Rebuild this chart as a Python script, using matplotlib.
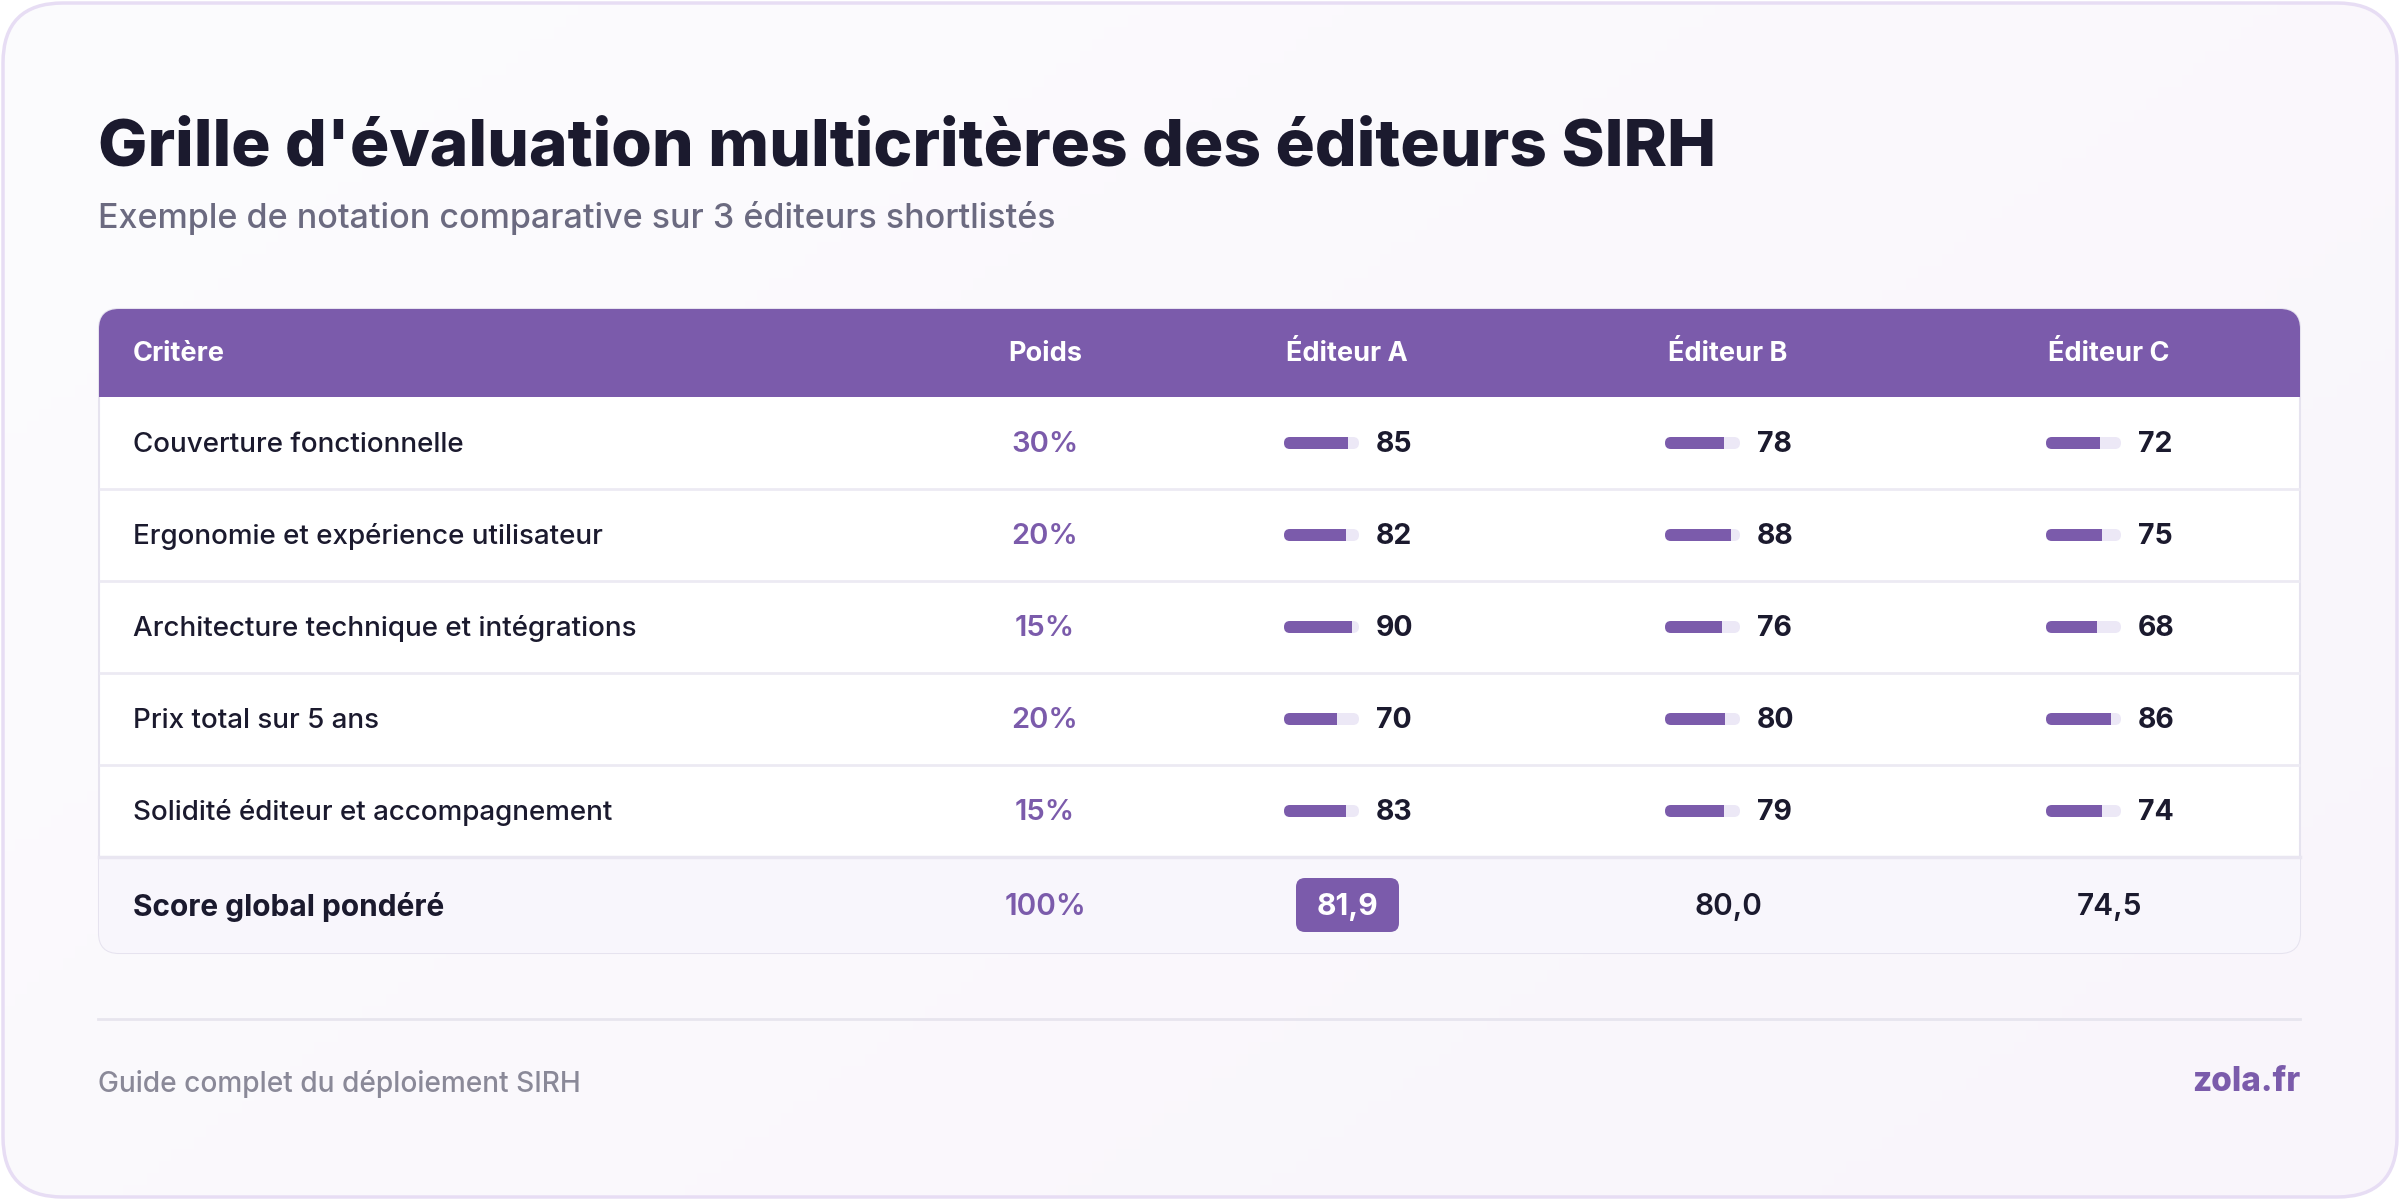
import numpy as np
import matplotlib
matplotlib.use("Agg")
import matplotlib.pyplot as plt
from matplotlib.patches import FancyBboxPatch, Rectangle
from matplotlib.colors import LinearSegmentedColormap

# ---------------- data ----------------
title = "Grille d'évaluation multicritères des éditeurs SIRH"
subtitle = "Exemple de notation comparative sur 3 éditeurs shortlistés"
headers = ["Critère", "Poids", "Éditeur A", "Éditeur B", "Éditeur C"]
criteria = [
    "Couverture fonctionnelle",
    "Ergonomie et expérience utilisateur",
    "Architecture technique et intégrations",
    "Prix total sur 5 ans",
    "Solidité éditeur et accompagnement",
]
weights = ["30%", "20%", "15%", "20%", "15%"]
scores_a = [85, 82, 90, 70, 83]
scores_b = [78, 88, 76, 80, 79]
scores_c = [72, 75, 68, 86, 74]
total_label = "Score global pondéré"
total_weight = "100%"
totals = ["81,9", "80,0", "74,5"]
footer_left = "Guide complet du déploiement SIRH"
footer_right = "zola.fr"

# ---------------- style ----------------
PURPLE = "#7b5bab"
DARK = "#1b1a2e"
GRAY = "#6b6a80"
LIGHT_GRAY = "#8a8998"
TRACK = "#ece8f6"
LINE = "#eceaf3"
FONT = ["Inter", "DejaVu Sans"]
plt.rcParams["font.family"] = FONT

W, H = 2400, 1200
fig = plt.figure(figsize=(24, 12), dpi=100)
ax = fig.add_axes([0, 0, 1, 1])
ax.set_xlim(0, W)
ax.set_ylim(H, 0)
ax.axis("off")
fig.patch.set_facecolor("white")

# card with subtle gradient
card = FancyBboxPatch((3, 3), W - 6, H - 6, boxstyle="round,pad=0,rounding_size=60",
                      facecolor="none", edgecolor="#e7ddf4", linewidth=2.5, zorder=3)
ax.add_patch(card)
gx = np.linspace(0, 1, 200)
gy = np.linspace(0, 1, 100)
GX, GY = np.meshgrid(gx, gy)
grad = 0.6 * GX + 0.4 * GY
cmap = LinearSegmentedColormap.from_list("bg", ["#fcfcfe", "#f9f5fb"])
im = ax.imshow(grad, extent=(3, W - 3, H - 3, 3), cmap=cmap, aspect="auto", zorder=1)
clip_card = FancyBboxPatch((3, 3), W - 6, H - 6, boxstyle="round,pad=0,rounding_size=60",
                           facecolor="none", edgecolor="none", transform=ax.transData)
ax.add_patch(clip_card)
im.set_clip_path(clip_card)

# title / subtitle
ax.text(98, 165, title, fontsize=47.3, fontweight="heavy", color=DARK, va="baseline", ha="left", zorder=5)
ax.text(98, 228, subtitle, fontsize=24.5, fontweight="medium", color=GRAY, va="baseline", ha="left", zorder=5)

# table geometry
tx0, tx1 = 99, 2300
ty0 = 309
header_h = 88
row_h = 92
total_h = 96
ty1 = ty0 + header_h + row_h * len(criteria) + total_h

table = FancyBboxPatch((tx0, ty0), tx1 - tx0, ty1 - ty0, boxstyle="round,pad=0,rounding_size=20",
                       facecolor="white", edgecolor="#e6e3ef", linewidth=1.5, zorder=2)
ax.add_patch(table)
clip_tab = FancyBboxPatch((tx0, ty0), tx1 - tx0, ty1 - ty0, boxstyle="round,pad=0,rounding_size=20",
                          facecolor="none", edgecolor="none")
ax.add_patch(clip_tab)

hdr = Rectangle((tx0, ty0), tx1 - tx0, header_h, facecolor=PURPLE, edgecolor="none", zorder=2.5)
ax.add_patch(hdr)
hdr.set_clip_path(clip_tab)

tot_y0 = ty0 + header_h + row_h * len(criteria)
tot = Rectangle((tx0, tot_y0), tx1 - tx0, total_h, facecolor="#f8f6fc", edgecolor="none", zorder=2.5)
ax.add_patch(tot)
tot.set_clip_path(clip_tab)

# column positions
x_crit = 133
x_poids = 1045
col_centers = [1347, 1728, 2109]

hy = ty0 + header_h / 2 + 1
ax.text(x_crit, hy, headers[0], fontsize=19.5, fontweight="bold", color="white", va="center", ha="left", zorder=5)
ax.text(x_poids, hy, headers[1], fontsize=19.5, fontweight="bold", color="white", va="center", ha="center", zorder=5)
for cx, h in zip(col_centers, headers[2:]):
    ax.text(cx, hy, h, fontsize=19.5, fontweight="bold", color="white", va="center", ha="center", zorder=5)

# rows
bar_w, bar_h = 75, 12
all_scores = [scores_a, scores_b, scores_c]
for i, (crit, wgt) in enumerate(zip(criteria, weights)):
    y0 = ty0 + header_h + i * row_h
    yc = y0 + row_h / 2
    ty = yc + 2
    if i > 0:
        ax.plot([tx0, tx1], [y0, y0], color=LINE, lw=2, zorder=3, solid_capstyle="butt")
    ax.text(x_crit, ty, crit, fontsize=20, fontweight="medium", color=DARK, va="center", ha="left", zorder=5)
    ax.text(x_poids, ty, wgt, fontsize=21, fontweight="semibold", color=PURPLE, va="center", ha="center", zorder=5)
    for cx, sc in zip(col_centers, all_scores):
        v = sc[i]
        bx = cx - 63
        track = FancyBboxPatch((bx, yc - bar_h / 2), bar_w, bar_h,
                               boxstyle="round,pad=0,rounding_size=6",
                               facecolor=TRACK, edgecolor="none", zorder=4)
        ax.add_patch(track)
        fill = Rectangle((bx, yc - bar_h / 2), bar_w * v / 100, bar_h,
                         facecolor=PURPLE, edgecolor="none", zorder=4.5)
        ax.add_patch(fill)
        fill.set_clip_path(track)
        ax.text(bx + bar_w + 17, ty, str(v), fontsize=20.5, fontweight="bold", color=DARK,
                va="center", ha="left", zorder=5)

ax.plot([tx0, tx1], [tot_y0, tot_y0], color="#e9e6f1", lw=2.5, zorder=3)

# total row
yc = tot_y0 + total_h / 2
ty = yc + 2
ax.text(x_crit, ty, total_label, fontsize=21.5, fontweight="bold", color=DARK, va="center", ha="left", zorder=5)
ax.text(x_poids, ty, total_weight, fontsize=21.5, fontweight="semibold", color=PURPLE, va="center", ha="center", zorder=5)
for j, (cx, t) in enumerate(zip(col_centers, totals)):
    if j == 0:
        badge = FancyBboxPatch((cx - 51, yc - 27), 103, 54, boxstyle="round,pad=0,rounding_size=9",
                               facecolor=PURPLE, edgecolor="none", zorder=4)
        ax.add_patch(badge)
        ax.text(cx, ty, t, fontsize=21.5, fontweight="bold", color="white", va="center", ha="center", zorder=5)
    else:
        ax.text(cx, ty, t, fontsize=21.5, fontweight="semibold", color=DARK, va="center", ha="center", zorder=5)

# footer
ax.plot([98, 2300], [1019, 1019], color="#e7e5ee", lw=2, zorder=3)
ax.text(98, 1084, footer_left, fontsize=20.2, fontweight="medium", color=LIGHT_GRAY, va="center", ha="left", zorder=5)
ax.text(2300, 1082, footer_right, fontsize=24, fontweight="heavy", color=PURPLE, va="center", ha="right", zorder=5)

fig.savefig("out.png", dpi=100)
